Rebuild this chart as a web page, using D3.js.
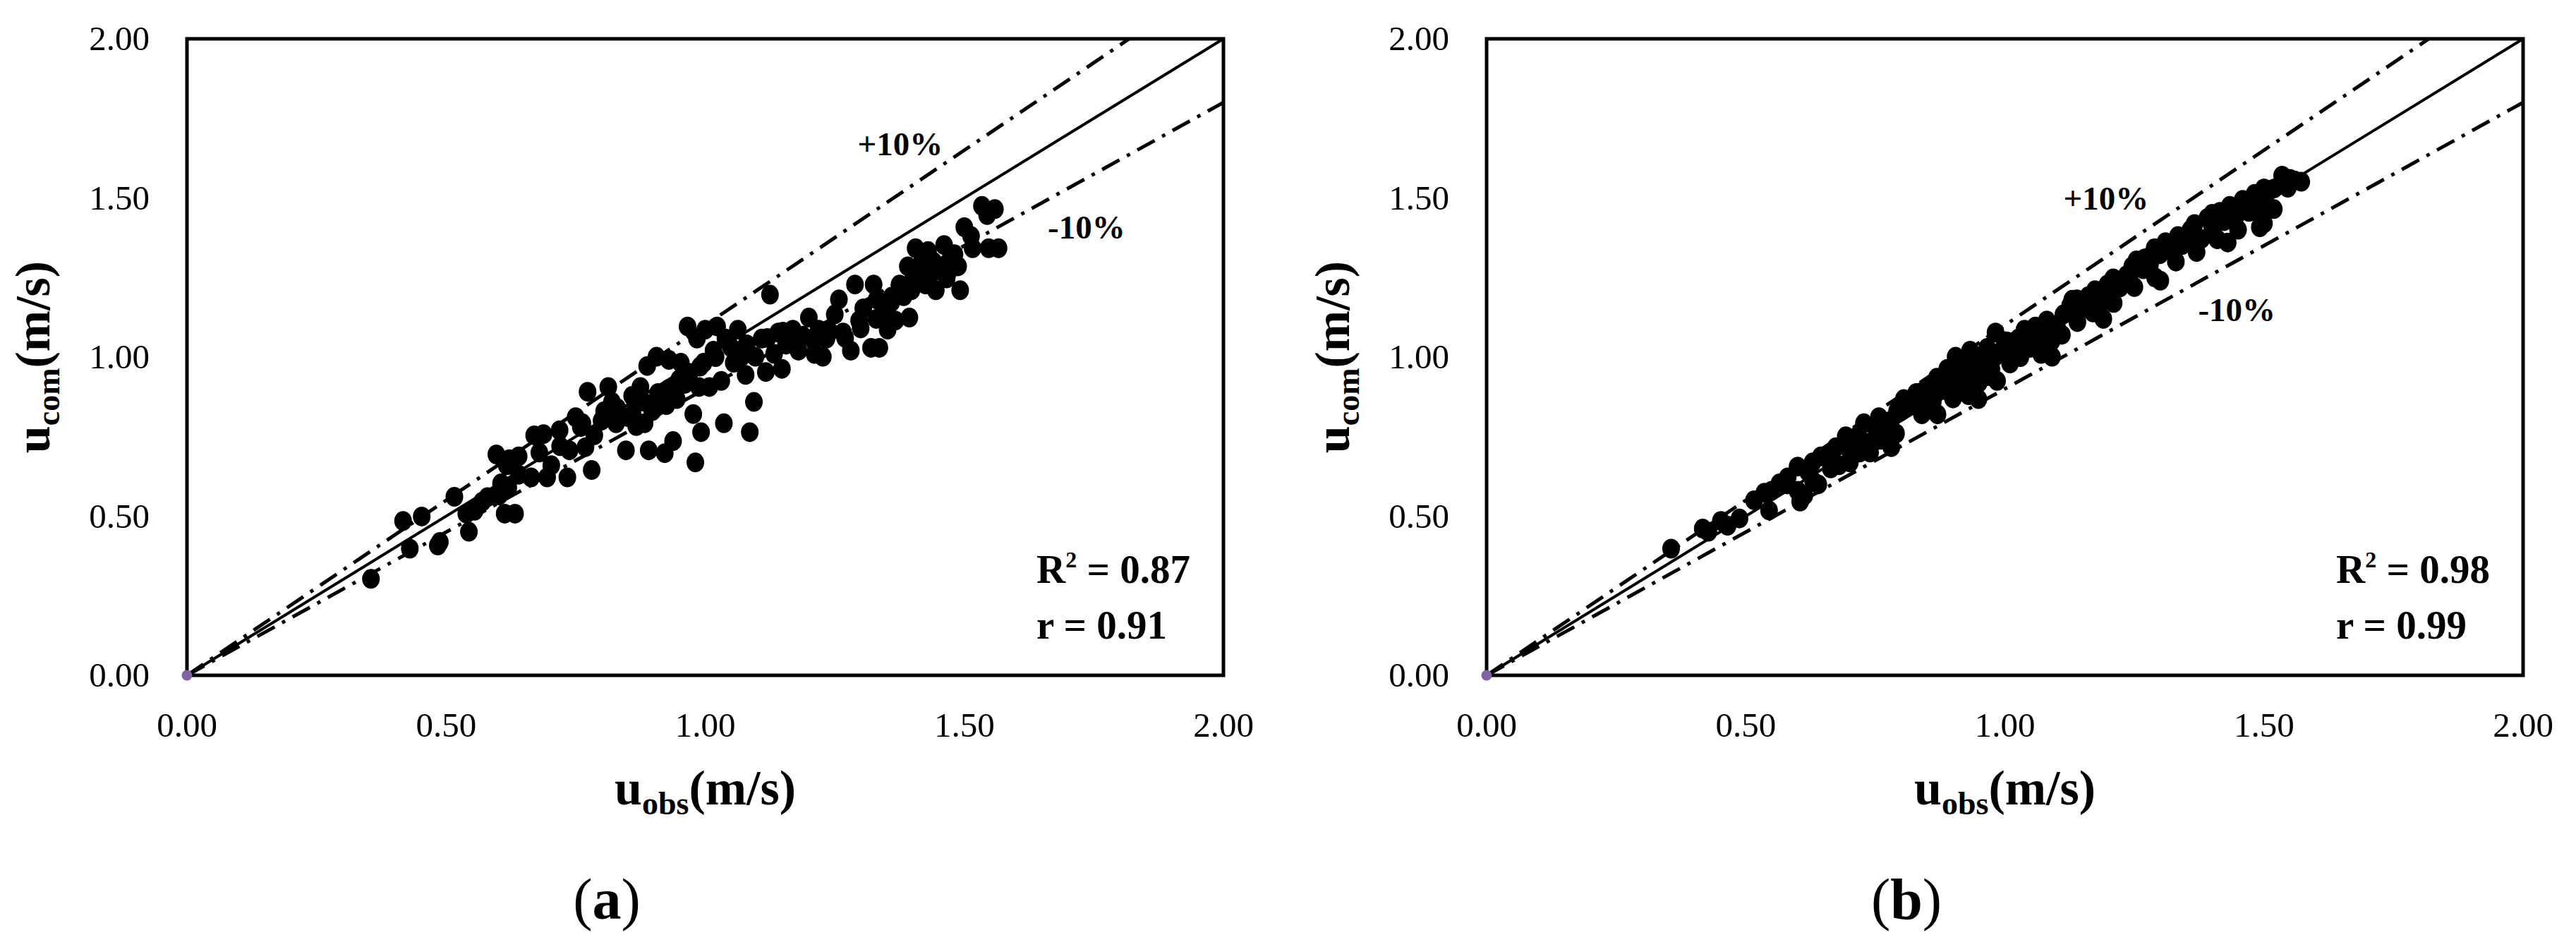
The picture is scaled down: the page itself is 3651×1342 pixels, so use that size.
<!DOCTYPE html>
<html>
<head>
  <meta charset="utf-8">
  <title>u_com vs u_obs</title>
  <script src="https://d3js.org/d3.v7.min.js"></script>
  <style>
    body { margin: 0; background: #fff; }
    svg text { font-family: "Liberation Serif", "Times New Roman", serif; fill: #000; }
  </style>
</head>
<body>
<div id="fig"></div>
<script>
// axis ticks (both axes, both panels)
var ticks = [0, 0.5, 1.0, 1.5, 2.0];

// panel (a): [u_obs, u_com]
var pointsA = [
  [0.355,0.303],[0.417,0.485],[0.43,0.398],[0.453,0.499],[0.484,0.408],[0.488,0.419],
  [0.516,0.561],[0.539,0.508],[0.544,0.451],[0.555,0.517],[0.570,0.546],[0.597,0.694],
  [0.602,0.565],[0.606,0.603],[0.613,0.508],[0.617,0.660],[0.622,0.679],[0.633,0.508],
  [0.640,0.688],[0.664,0.622],[0.670,0.754],[0.688,0.758],[0.695,0.622],[0.703,0.660],
  [0.719,0.770],[0.734,0.622],[0.738,0.707],[0.750,0.811],[0.763,0.792],[0.769,0.717],
  [0.781,0.645],[0.773,0.891],[0.786,0.754],[0.805,0.830],[0.813,0.906],[0.820,0.859],
  [0.828,0.792],[0.847,0.707],[0.852,0.811],[0.859,0.878],[0.867,0.783],[0.875,0.906],
  [0.883,0.792],[0.888,0.972],[0.891,0.707],[0.898,0.830],[0.906,1.001],[0.909,0.887],
  [0.922,0.698],[0.925,0.849],[0.930,0.991],[0.938,0.736],[0.945,0.868],[0.953,0.982],
  [0.961,0.916],[0.966,1.096],[0.977,0.821],[0.981,0.669],[0.984,1.058],[0.988,0.906],
  [0.992,0.764],[0.997,0.982],[1.000,1.086],[1.008,0.906],[1.016,1.020],[1.023,1.096],
  [1.031,0.925],[1.036,0.792],[1.039,1.058],[1.055,0.982],[1.063,1.086],[1.070,1.001],
  [1.078,0.944],[1.086,0.764],[1.094,0.859],[1.097,1.001],[1.109,1.058],[1.117,0.953],
  [1.125,1.196],[1.133,1.010],[1.141,1.077],[1.148,0.963],[1.156,1.039],[1.169,1.086],
  [1.180,1.020],[1.188,1.067],[1.200,1.124],[1.211,1.010],[1.219,1.086],[1.227,1.001],
  [1.234,1.058],[1.250,1.134],[1.258,1.181],[1.266,1.077],[1.281,1.020],[1.289,1.228],
  [1.297,1.115],[1.305,1.153],[1.320,1.029],[1.325,1.228],[1.331,1.181],[1.336,1.029],
  [1.344,1.134],[1.352,1.086],[1.359,1.172],[1.367,1.115],[1.375,1.228],[1.383,1.191],
  [1.391,1.285],[1.394,1.124],[1.398,1.210],[1.406,1.342],[1.414,1.257],[1.419,1.304],
  [1.425,1.228],[1.430,1.333],[1.438,1.266],[1.445,1.210],[1.453,1.285],[1.461,1.352],
  [1.466,1.247],[1.472,1.304],[1.481,1.323],[1.488,1.285],[1.492,1.210],[1.500,1.408],
  [1.513,1.380],[1.516,1.342],[1.534,1.475],[1.544,1.446],[1.547,1.342],[1.559,1.465],
  [1.566,1.342],
  [0.80,0.80],[0.83,0.84],[0.86,0.82],[0.88,0.86],[0.90,0.84],[0.93,0.90],[0.95,0.93],
  [0.97,0.95],[0.99,0.97],[1.02,1.00],[1.05,1.03],[1.08,1.04],[1.12,1.06],[1.15,1.08],
  [1.18,1.06],[1.21,1.05],[1.24,1.08],[1.27,1.06],[1.30,1.09],[1.33,1.12],[1.36,1.19],
  [1.40,1.24],[1.44,1.30],[1.47,1.27],[0.76,0.78],[0.72,0.72],[0.68,0.70],[0.64,0.63],
  [0.58,0.56],[0.62,0.59]
];

// panel (b): [u_obs, u_com]
var pointsB = [
  [0.356,0.398],[0.417,0.461],[0.428,0.451],[0.452,0.485],[0.465,0.470],[0.488,0.493],
  [0.516,0.550],[0.536,0.574],[0.545,0.518],[0.565,0.603],[0.581,0.622],[0.600,0.656],
  [0.605,0.546],[0.613,0.565],[0.629,0.669],[0.645,0.688],[0.664,0.650],[0.674,0.717],
  [0.693,0.751],[0.701,0.669],[0.717,0.754],[0.728,0.792],[0.741,0.732],[0.757,0.811],
  [0.770,0.764],[0.781,0.717],[0.792,0.830],[0.805,0.868],[0.818,0.849],[0.829,0.887],
  [0.840,0.864],[0.853,0.906],[0.861,0.859],[0.869,0.935],[0.882,0.897],[0.889,0.963],
  [0.898,0.944],[0.905,1.001],[0.914,0.897],[0.925,0.982],[0.933,1.020],[0.941,0.954],
  [0.949,0.868],[0.957,0.991],[0.966,1.029],[0.974,0.963],[0.982,1.077],[0.985,0.925],
  [0.994,1.020],[1.006,1.048],[1.017,1.001],[1.026,1.058],[1.038,1.086],[1.049,1.029],
  [1.059,1.096],[1.070,1.058],[1.081,1.115],[1.091,1.001],[1.102,1.086],[1.113,1.134],
  [1.126,1.162],[1.139,1.181],[1.150,1.153],[1.161,1.191],[1.174,1.210],[1.187,1.172],
  [1.198,1.228],[1.209,1.247],[1.222,1.219],[1.235,1.257],[1.246,1.285],[1.254,1.304],
  [1.267,1.276],[1.278,1.314],[1.289,1.342],[1.299,1.323],[1.310,1.361],[1.322,1.333],
  [1.334,1.380],[1.342,1.352],[1.358,1.399],[1.366,1.418],[1.379,1.371],[1.391,1.437],
  [1.402,1.408],[1.415,1.456],[1.423,1.427],[1.434,1.475],[1.447,1.446],[1.459,1.494],
  [1.471,1.456],[1.482,1.513],[1.492,1.408],[1.503,1.494],[1.519,1.465],[1.535,1.570],
  [1.546,1.532],[1.559,1.555],[1.572,1.551],
  [0.62,0.64],[0.70,0.71],[0.75,0.78],[0.78,0.80],[0.83,0.86],[0.87,0.89],[0.92,0.95],
  [0.96,0.97],[1.00,1.02],[1.04,1.05],[1.08,1.09],[1.12,1.14],[1.16,1.17],[1.20,1.21],
  [1.24,1.25],[1.28,1.29],[1.32,1.35],[1.36,1.38],[1.40,1.41],[1.44,1.45],[1.48,1.48],
  [1.52,1.53],[1.55,1.56],[1.10,1.10],[0.98,1.00],[0.90,0.92],[0.80,0.83],[0.66,0.69],
  [0.58,0.60],
  [0.60,0.58],[0.63,0.61],[0.68,0.66],[0.72,0.70],[0.76,0.74],[0.79,0.76],[0.84,0.82],
  [0.86,0.84],[0.90,0.87],[0.93,0.91],[0.95,0.92],[0.97,0.94],[1.01,0.98],[1.03,1.00],
  [1.06,1.03],[1.09,1.05],[1.11,1.07],[1.14,1.11],[1.17,1.14],[1.21,1.17],[1.25,1.22],
  [1.29,1.25],[1.33,1.30],[1.37,1.33],[1.41,1.37],[1.45,1.40],[1.49,1.45],[1.50,1.42],
  [1.43,1.36],[1.30,1.24],[1.19,1.12],[1.07,1.01],[0.93,0.88],[0.87,0.82],[0.74,0.70],
  [0.64,0.60],[0.95,1.00],[1.00,1.05],[0.88,0.93],[0.84,0.89],[1.13,1.18],[1.27,1.31],
  [1.40,1.45],[1.50,1.53],[0.71,0.74],[0.55,0.58]
];

// reference lines: y = k * x
var ratios = [1.0, 1.1, 0.9];
var statsA = ["0.87", "0.91"];
var statsB = ["0.98", "0.99"];
var bandLabelsA = [["+10%", 1.294, 1.634], ["-10%", 1.661, 1.372]];
var bandLabelsB = [["+10%", 1.113, 1.463], ["-10%", 1.373, 1.113]];

var svg = d3.select("#fig").append("svg")
  .attr("width", 3651)
  .attr("height", 1342);

svg.append("rect").attr("width", 3651).attr("height", 1342).attr("fill", "#fff");

function panel(left, pts, stats, bands, tag) {
  var top = 55, w = 1469, h = 902;
  var x = d3.scaleLinear().domain([0, 2]).range([0, w]);
  var y = d3.scaleLinear().domain([0, 2]).range([h, 0]);
  var g = svg.append("g").attr("transform", "translate(" + left + "," + top + ")");

  // reference lines
  g.selectAll("line.ref").data(ratios).enter().append("line")
    .attr("x1", x(0)).attr("y1", y(0))
    .attr("x2", function(k) { return x(Math.min(2, 2 / k)); })
    .attr("y2", function(k) { return y(k * Math.min(2, 2 / k)); })
    .attr("stroke", "#000")
    .attr("stroke-width", function(k) { return k == 1 ? 4 : 5; })
    .attr("stroke-dasharray", function(k) { return k == 1 ? null : "28,12,5,12"; });

  // points
  g.selectAll("ellipse.pt").data(pts).enter().append("ellipse")
    .attr("cx", function(d) { return x(d[0]); })
    .attr("cy", function(d) { return y(d[1]); })
    .attr("rx", 12.5).attr("ry", 14)
    .attr("fill", "#000");

  // frame
  g.append("rect").attr("x", 0).attr("y", 0).attr("width", w).attr("height", h)
    .attr("fill", "none").attr("stroke", "#000").attr("stroke-width", 5);

  g.append("circle").attr("cx", x(0)).attr("cy", y(0)).attr("r", 7.5).attr("fill", "#8064a2");

  // tick labels
  g.selectAll("text.yt").data(ticks).enter().append("text")
    .attr("x", -53).attr("y", function(d) { return y(d) + 16; })
    .attr("text-anchor", "end").attr("font-size", 49)
    .text(function(d) { return d.toFixed(2); });
  g.selectAll("text.xt").data(ticks).enter().append("text")
    .attr("x", function(d) { return x(d); }).attr("y", h + 87)
    .attr("text-anchor", "middle").attr("font-size", 49)
    .text(function(d) { return d.toFixed(2); });

  // +-10% labels
  g.selectAll("text.band").data(bands).enter().append("text")
    .attr("x", function(d) { return x(d[1]); })
    .attr("y", function(d) { return y(d[2]); })
    .attr("font-size", 47).attr("font-weight", "bold")
    .text(function(d) { return d[0]; });

  // stats
  var r2 = g.append("text").attr("x", w - 265).attr("y", 771)
    .attr("font-size", 57).attr("font-weight", "bold");
  r2.append("tspan").text("R");
  r2.append("tspan").attr("font-size", 32).attr("dy", -22).text("2");
  r2.append("tspan").attr("dy", 22).text(" = " + stats[0]);
  g.append("text").attr("x", w - 265).attr("y", 850)
    .attr("font-size", 57).attr("font-weight", "bold")
    .text("r = " + stats[1]);

  // axis titles
  var xt = g.append("text").attr("x", w / 2).attr("y", 1085)
    .attr("text-anchor", "middle").attr("font-size", 70).attr("font-weight", "bold");
  xt.append("tspan").text("u");
  xt.append("tspan").attr("font-size", 46).attr("dy", 14).text("obs");
  xt.append("tspan").attr("dy", -14).text("(m/s)");

  var yt = svg.append("text")
    .attr("transform", "translate(" + (left - 195) + "," + (top + h / 2) + ") rotate(-90)")
    .attr("text-anchor", "middle").attr("font-size", 70).attr("font-weight", "bold");
  yt.append("tspan").text("u");
  yt.append("tspan").attr("font-size", 46).attr("dy", 14).text("com");
  yt.append("tspan").attr("dy", -14).text("(m/s)");

  // panel tag
  var pt = svg.append("text").attr("x", left + 595).attr("y", 1302)
    .attr("text-anchor", "middle").attr("font-size", 82);
  pt.append("tspan").text("(");
  pt.append("tspan").attr("font-weight", "bold").text(tag);
  pt.append("tspan").text(")");
}

panel(265, pointsA, statsA, bandLabelsA, "a");
panel(2107, pointsB, statsB, bandLabelsB, "b");
</script>
</body>
</html>
